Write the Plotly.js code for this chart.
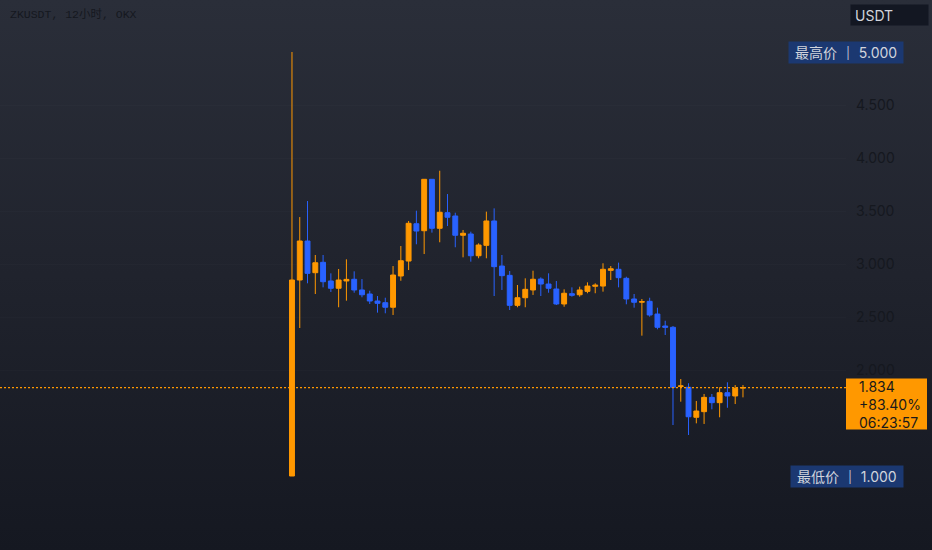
<!DOCTYPE html>
<html>
<head>
<meta charset="utf-8">
<script src="https://cdn.plot.ly/plotly-3.0.1.min.js"></script>
<style>
  html, body { margin: 0; padding: 0; }
  body { width: 932px; height: 550px; background: linear-gradient(180deg, #2a2e39 0%, #20232d 50%, #151821 100%); }
  #chart { width: 932px; height: 550px; }
</style>
</head>
<body>
<div id="chart"></div>
<script>
// ZKUSDT 12h candles
var opens = [1.000, 2.849, 3.217, 2.918, 3.016, 2.840, 2.771, 2.840, 2.856, 2.755,
  2.717, 2.651, 2.635, 2.592, 2.887, 3.028, 3.380, 3.314, 3.799, 3.337,
  3.484, 3.453, 3.271, 3.283, 3.078, 3.176, 3.406, 2.981, 2.893, 2.610,
  2.682, 2.755, 2.858, 2.811, 2.764, 2.623, 2.720, 2.710, 2.742, 2.790,
  2.792, 2.940, 2.950, 2.865, 2.670, 2.640, 2.648, 2.528, 2.415, 2.403,
  1.845, 1.837, 1.554, 1.607, 1.742, 1.692, 1.786, 1.755, 1.830];
var highs = [5.000, 3.443, 3.594, 3.085, 3.085, 2.912, 2.953, 3.044, 2.931, 2.858,
  2.748, 2.698, 2.682, 2.981, 3.170, 3.406, 3.503, 3.800, 3.800, 3.880,
  3.660, 3.484, 3.321, 3.305, 3.195, 3.494, 3.525, 3.085, 2.934, 2.802,
  2.865, 2.937, 2.874, 2.912, 2.840, 2.761, 2.780, 2.786, 2.827, 2.818,
  3.007, 2.981, 3.013, 2.880, 2.717, 2.670, 2.682, 2.588, 2.465, 2.415,
  1.915, 1.875, 1.708, 1.774, 1.774, 1.837, 1.884, 1.858, 1.858];
var lows = [1.000, 2.396, 2.818, 2.717, 2.780, 2.736, 2.592, 2.654, 2.729, 2.686,
  2.623, 2.541, 2.535, 2.519, 2.842, 2.943, 3.186, 3.094, 3.296, 3.205,
  3.358, 3.158, 3.063, 3.022, 3.054, 3.054, 2.698, 2.755, 2.566, 2.592,
  2.592, 2.708, 2.698, 2.729, 2.613, 2.597, 2.692, 2.692, 2.724, 2.724,
  2.739, 2.849, 2.780, 2.620, 2.588, 2.324, 2.503, 2.384, 2.330, 1.481,
  1.701, 1.387, 1.497, 1.491, 1.629, 1.554, 1.644, 1.679, 1.742];
var closes = [2.849, 3.217, 2.912, 3.012, 2.833, 2.771, 2.849, 2.855, 2.755, 2.710,
  2.651, 2.629, 2.592, 2.896, 3.031, 3.384, 3.311, 3.799, 3.337, 3.488,
  3.441, 3.271, 3.290, 3.078, 3.179, 3.406, 2.975, 2.890, 2.610, 2.682,
  2.761, 2.856, 2.811, 2.771, 2.623, 2.724, 2.705, 2.755, 2.792, 2.800,
  2.950, 2.955, 2.871, 2.670, 2.639, 2.645, 2.519, 2.403, 2.403, 1.837,
  1.850, 1.559, 1.613, 1.742, 1.692, 1.786, 1.755, 1.827, 1.834];
var yTicks = [2.0, 2.5, 3.0, 3.5, 4.0, 4.5];
var titleText = "ZKUSDT, 12小时, OKX";
var quoteUnit = "USDT";
var countdown = "06:23:57";

var UP = "#ff9800", DOWN = "#2962ff";
var DIM = "#15181f";
var NB = "\u00a0";
var idx = opens.map(function (_, i) { return i; });
var last = closes[closes.length - 1];
var hi = Math.max.apply(null, highs);
var lo = Math.min.apply(null, lows);
var pct = (last - opens[0]) / opens[0] * 100;

var trace = {
  type: "candlestick",
  x: idx,
  open: opens,
  high: highs,
  low: lows,
  close: closes,
  increasing: { line: { color: UP, width: 1 }, fillcolor: UP },
  decreasing: { line: { color: DOWN, width: 1 }, fillcolor: DOWN },
  whiskerwidth: 0,
  hoverinfo: "skip",
  showlegend: false
};

var numFont = "Inter, 'Noto Sans CJK SC', sans-serif";
var tagBg = "#1b3871";

function tag(label, v) {
  return NB + label + " <span style='color:#ffffff'>│</span> " + v.toFixed(3) + NB;
}

var layout = {
  width: 932,
  height: 550,
  margin: { l: 0, r: 86, t: 0, b: 0 },
  paper_bgcolor: "rgba(0,0,0,0)",
  plot_bgcolor: "rgba(0,0,0,0)",
  font: { family: numFont, color: DIM },
  showlegend: false,
  boxgap: 0.1,
  xaxis: {
    range: [-37.55, 71.25],
    showgrid: false,
    zeroline: false,
    showticklabels: false,
    ticks: "",
    rangeslider: { visible: false },
    fixedrange: true
  },
  yaxis: {
    side: "right",
    range: [0.302, 5.4906],
    tickvals: yTicks,
    ticktext: yTicks.map(function (v) { return v.toFixed(3); }),
    color: DIM,
    tickfont: { family: numFont, size: 14, color: DIM },
    ticks: "",
    ticklabelstandoff: 9,
    showgrid: true,
    gridcolor: "rgba(255,255,255,0.015)",
    zeroline: false,
    showline: false,
    fixedrange: true
  },
  shapes: [
    {
      type: "line", xref: "paper", x0: 0, x1: 1, yref: "y", y0: last, y1: last,
      line: { color: UP, width: 1.2, dash: "2px,2px" }
    },
    {
      type: "rect", xref: "paper", x0: 1, x1: 1 + 81 / 846,
      yref: "y", ysizemode: "pixel", yanchor: last, y0: -42, y1: 9,
      fillcolor: UP, line: { width: 0 }
    }
  ],
  annotations: [
    {
      xref: "paper", yref: "paper", x: 8 / 846, y: 1 - 15 / 550,
      xanchor: "left", yanchor: "middle", showarrow: false,
      text: titleText,
      font: { family: "'Liberation Mono', 'Noto Sans CJK SC', monospace", size: 11.5, color: DIM }
    },
    {
      xref: "paper", yref: "paper", x: 850 / 846, y: 1 - 4 / 550,
      xanchor: "left", yanchor: "top", showarrow: false,
      text: quoteUnit, align: "left", width: 69, height: 12, borderpad: 4,
      bgcolor: "#131722",
      font: { family: numFont, size: 14, color: "#d1d4dc" }
    },
    {
      xref: "paper", yref: "y", x: 857 / 846, y: last, yshift: -17,
      xanchor: "left", yanchor: "middle", showarrow: false, align: "left",
      text: last.toFixed(3) + "<br>+" + pct.toFixed(2) + "%<br>" + countdown,
      font: { family: numFont, size: 14, color: "#1a1a1a" }
    },
    {
      xref: "paper", yref: "y", x: 904 / 846, y: hi,
      xanchor: "right", yanchor: "middle", showarrow: false,
      text: tag("最高价", hi),
      bgcolor: tagBg, borderpad: 2,
      font: { family: numFont, size: 14, color: "#d1d4dc" }
    },
    {
      xref: "paper", yref: "y", x: 904 / 846, y: lo,
      xanchor: "right", yanchor: "middle", showarrow: false,
      text: tag("最低价", lo),
      bgcolor: tagBg, borderpad: 2,
      font: { family: numFont, size: 14, color: "#d1d4dc" }
    }
  ]
};

Plotly.newPlot("chart", [trace], layout, { displayModeBar: false, staticPlot: true });
</script>
</body>
</html>
